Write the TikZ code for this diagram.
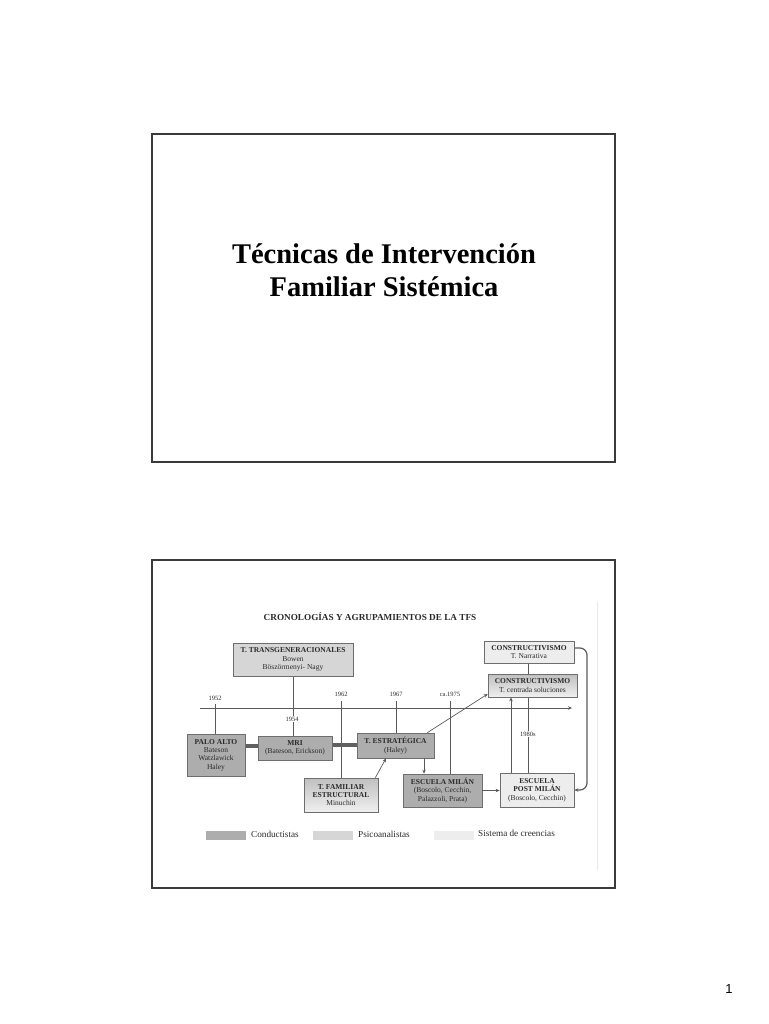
\documentclass[tikz,border=0pt]{standalone}
\usepackage{fontspec}
\setmainfont{Liberation Serif}
\newfontfamily\pagenumfont{Liberation Sans}
\usetikzlibrary{arrows.meta,backgrounds}
\definecolor{frameline}{HTML}{3A3A3A}
\definecolor{boxline}{HTML}{6E6E6E}
\definecolor{conduct}{HTML}{ADADAD}
\definecolor{psico}{HTML}{D6D6D6}
\definecolor{creenc}{HTML}{EDEDED}
\definecolor{conn}{HTML}{5A5A5A}
\definecolor{txt}{HTML}{2A2A2A}
\tikzset{
  slide/.style={draw=frameline, line width=1.4pt},
  box/.style={draw=boxline, line width=0.7pt, align=center, inner sep=0pt, text=txt,
    font=\fontsize{7.5}{8.4}\selectfont},
  condbox/.style={box, fill=conduct},
  psicobox/.style={box, top color=gray!50, bottom color=gray!12},
  psicoflat/.style={box, fill=psico},
  creebox/.style={box, fill=creenc},
  yearlbl/.style={font=\fontsize{6.5}{7}\selectfont, text=txt, inner sep=1pt},
  thin/.style={draw=conn, line width=0.7pt},
  arr/.style={thin, -{Stealth[length=4pt,width=3.5pt]}},
  thick conn/.style={draw=gray!75!black, line width=4pt},
  legsw/.style={minimum width=40pt, minimum height=9pt, inner sep=0pt},
  legtxt/.style={anchor=west, font=\fontsize{9.2}{10}\selectfont, text=txt, inner sep=0pt}
}
\begin{document}
\begin{tikzpicture}[x=1pt,y=-1pt]
\useasboundingbox (0,0) rectangle (768,1024);

% slide 1
\node[slide, minimum width=463pt, minimum height=328pt, inner sep=0pt] (s1) at (383.5,298) {};
\node[align=center, font=\fontsize{28.5}{33}\selectfont\bfseries] (title) at (384,270)
  {Técnicas de Intervención\\Familiar Sistémica};

% slide 2
\node[slide, minimum width=463pt, minimum height=328pt, inner sep=0pt] (s2) at (383.5,724) {};
\coordinate (rb0) at (597,602);
\coordinate (rb1) at (597,870);
\draw[gray!18, line width=1pt] (rb0) -- (rb1);

\node[font=\fontsize{9.2}{10}\selectfont\bfseries, text=txt] (dtitle) at (370,617)
  {CRONOLOGÍAS Y AGRUPAMIENTOS DE LA TFS};

% boxes
\node[psicoflat, minimum width=120pt, minimum height=33pt] (trans) at (293,659.5)
  {\textbf{T. TRANSGENERACIONALES}\\Bowen\\Böszörmenyi- Nagy};
\node[condbox, minimum width=58pt, minimum height=42pt] (palo) at (216,755)
  {\textbf{PALO ALTO}\\Bateson\\Watzlawick\\Haley};
\node[condbox, minimum width=74pt, minimum height=24pt] (mri) at (295,748)
  {\textbf{MRI}\\(Bateson, Erickson)};
\node[condbox, minimum width=77pt, minimum height=25pt] (estrat) at (395.5,745.5)
  {\textbf{T. ESTRATÉGICA}\\(Haley)};
\node[psicobox, minimum width=74pt, minimum height=34pt] (famil) at (341,795)
  {\textbf{T. FAMILIAR}\\\textbf{ESTRUCTURAL}\\Minuchin};
\node[condbox, minimum width=79pt, minimum height=33pt] (milan) at (442.5,790.5)
  {\textbf{ESCUELA MILÁN}\\(Boscolo, Cecchin,\\Palazzoli, Prata)};
\node[creebox, minimum width=74pt, minimum height=34pt] (post) at (537,790)
  {\textbf{ESCUELA}\\\textbf{POST MILÁN}\\(Boscolo, Cecchin)};
\node[creebox, minimum width=90pt, minimum height=22pt] (narr) at (529,652)
  {\textbf{CONSTRUCTIVISMO}\\T. Narrativa};
\node[psicobox, minimum width=89pt, minimum height=23pt] (sol) at (532.5,685.5)
  {\textbf{CONSTRUCTIVISMO}\\T. centrada soluciones};

% timeline
\coordinate (tl0) at (200,708);
\coordinate (tl1) at (572,708);
\coordinate (y52) at (215,704);
\coordinate (y62) at (341,701);
\coordinate (y67) at (396,701);
\coordinate (y75) at (450,701);
\coordinate (curve) at (587,652);

\begin{pgfonlayer}{background}
  \draw[arr, line width=0.9pt] (tl0) -- (tl1);
  \draw[thin] (y52) -- (y52 |- palo.north);
  \draw[thin] (trans.south) -- (trans.south |- mri.north);
  \draw[thin] (y62) -- (y62 |- famil.north);
  \draw[thin] (y67) -- (y67 |- estrat.north);
  \draw[thin] (y75) -- (y75 |- milan.north);
  \draw[thin] (narr.south -| 528,0) -- (post.north -| 528,0);
  \draw[thick conn] (palo.east |- 0,746) -- (mri.west |- 0,746);
  \draw[thick conn] (mri.east |- 0,745) -- (estrat.west |- 0,745);
\end{pgfonlayer}

\draw[arr] (famil.north east) ++(-3,0) coordinate (fa) (fa) -- (estrat.south -| 386,0);
\draw[arr] (estrat.south -| 424,0) -- (milan.north -| 424,0);
\draw[arr] (estrat.north east) ++(-7,0) coordinate (ea) (ea) -- (sol.west |- 0,694);
\draw[arr] (post.north -| 511,0) -- (sol.south -| 511,0);
\draw[arr] (milan.east) -- (post.west |- milan.east);
\draw[arr, line width=1.2pt, rounded corners=7pt] (narr.east |- 0,648) -- (curve |- 0,648) -- (curve |- post.east) -- (post.east);

% year labels
\node[yearlbl] (l52) at (215,698) {1952};
\node[yearlbl, fill=white] (l54) at (292,719) {1954};
\node[yearlbl] (l62) at (341,694) {1962};
\node[yearlbl] (l67) at (396,694) {1967};
\node[yearlbl] (l75) at (450,694) {ca.1975};
\node[yearlbl, fill=white] (l80) at (528,734) {1980s};

% legend
\node[legsw, fill=conduct] (lg1) at (226,835) {};
\node[legtxt] (lt1) at (251,834) {Conductistas};
\node[legsw, fill=psico] (lg2) at (333,835) {};
\node[legtxt] (lt2) at (358,834) {Psicoanalistas};
\node[legsw, fill=creenc] (lg3) at (454,835) {};
\node[legtxt] (lt3) at (478,833) {Sistema de creencias};

% page number
\node[font=\pagenumfont\fontsize{13}{14}\selectfont] (pg) at (729,989) {1};
\end{tikzpicture}
\end{document}
